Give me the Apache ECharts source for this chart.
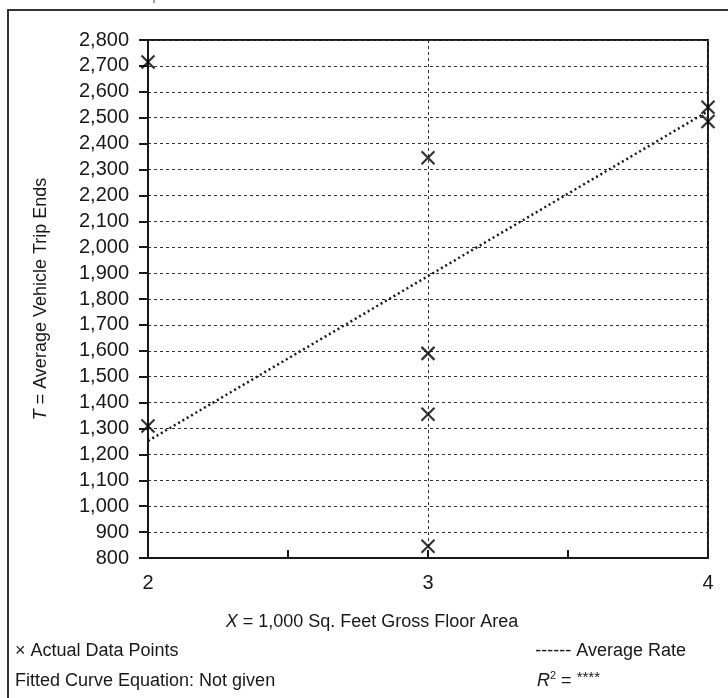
<!DOCTYPE html>
<html><head><meta charset="utf-8">
<script src="https://cdn.jsdelivr.net/npm/echarts@6/dist/echarts.min.js"></script>
<style>html,body{margin:0;padding:0;background:#fff}#c{width:728px;height:698px}</style>
</head><body><div id="c"></div>
<script>
// Data
const sqFeet = [2, 2, 3, 3, 3, 3, 4, 4];
const tripEnds = [2715, 1310, 2345, 1590, 1355, 845, 2540, 2485];
const rateX = [2, 4];
const rateY = [1252, 2525];
const xTickLabels = ['2', '3', '4'];
const yMin = 800, yMax = 2800, yStep = 100;

const FONT = '"Liberation Sans", Arial, Helvetica, sans-serif';
const INK = '#1a1718';

const chart = echarts.init(document.getElementById('c'), null, {renderer: 'canvas'});
const points = sqFeet.map((x, i) => [x, tripEnds[i]]);
const rateLine = rateX.map((x, i) => [x, rateY[i]]);

chart.setOption({
  animation: false,
  backgroundColor: '#fff',
  grid: {left: 148, right: 20, top: 40, bottom: 140, show: true, borderColor: INK, borderWidth: 2},
  xAxis: [{
    type: 'value', min: 2, max: 4, interval: 0.5,
    axisLine: {show: true, lineStyle: {color: INK, width: 2}},
    axisTick: {show: true, inside: true, length: 8, lineStyle: {color: INK, width: 2}},
    axisLabel: {
      margin: 15, color: INK, fontSize: 20, fontFamily: FONT,
      formatter: v => (Number.isInteger(v) ? xTickLabels[v - 2] : '')
    },
    splitLine: {show: false}
  }, {
    type: 'value', min: 2, max: 4, interval: 1, position: 'bottom',
    axisLine: {show: false}, axisTick: {show: false}, axisLabel: {show: false},
    splitLine: {show: true, lineStyle: {color: '#333', width: 1, type: [3, 3]}}
  }],
  yAxis: {
    type: 'value', min: yMin, max: yMax, interval: yStep,
    name: '{i|T} = Average Vehicle Trip Ends',
    nameLocation: 'middle', nameGap: 98, nameRotate: 90,
    nameTextStyle: {color: INK, fontSize: 18, fontFamily: FONT,
      rich: {i: {fontStyle: 'italic', fontSize: 18, fontFamily: FONT, color: INK}}},
    axisLine: {show: true, lineStyle: {color: INK, width: 2}},
    axisTick: {show: true, inside: false, length: 9, lineStyle: {color: INK, width: 2}},
    axisLabel: {margin: 19, color: INK, fontSize: 20, fontFamily: FONT,
      formatter: v => v.toLocaleString('en-US')},
    splitLine: {show: true, lineStyle: {color: '#333', width: 1, type: [3, 3]}}
  },
  series: [{
    type: 'line', data: rateLine, showSymbol: false, symbol: 'none',
    lineStyle: {color: INK, width: 2.5, type: [2, 3]}, z: 3
  }, {
    type: 'scatter', data: points,
    symbol: 'path://M0,0L10,10M10,0L0,10', symbolSize: 13,
    itemStyle: {color: 'rgba(0,0,0,0)', borderColor: '#000', borderWidth: 2.2}, z: 4
  }],
  graphic: [
    {type: 'rect', shape: {x: 8, y: 10, width: 800, height: 800}, style: {fill: 'none', stroke: '#333', lineWidth: 2}, silent: true},
    {type: 'text', x: 20, y: 3, style: {text: 'Data Plot and Equation', font: '18px ' + FONT, fill: '#888', verticalAlign: 'bottom'}},
    {type: 'text', x: 372, y: 622, style: {text: '{i|X} = 1,000 Sq. Feet Gross Floor Area', font: '18px ' + FONT, fill: INK, align: 'center', verticalAlign: 'middle',
      rich: {i: {fontStyle: 'italic', fontSize: 18, fontFamily: FONT, fill: INK}}}},
    {type: 'text', x: 15, y: 651, style: {text: '× Actual Data Points', font: '18px ' + FONT, fill: INK, verticalAlign: 'middle'}},
    {type: 'text', x: 15, y: 681, style: {text: 'Fitted Curve Equation: Not given', font: '18px ' + FONT, fill: INK, verticalAlign: 'middle'}},
    {type: 'text', x: 686, y: 651, style: {text: '------ Average Rate', font: '18px ' + FONT, fill: INK, align: 'right', verticalAlign: 'middle'}},
    {type: 'text', x: 537, y: 681, style: {text: '{i|R}{s|2}{n| = }{a|****}', font: '18px ' + FONT, fill: INK, verticalAlign: 'middle',
      rich: {i: {fontStyle: 'italic', fontSize: 18, fontFamily: FONT}, s: {fontSize: 11, fontFamily: FONT, padding: [0, 0, 10, 0]}, n: {fontSize: 18, fontFamily: FONT}, a: {fontSize: 15, fontFamily: FONT, padding: [0, 0, 6, 0]}}}}
  ]
});
</script></body></html>
